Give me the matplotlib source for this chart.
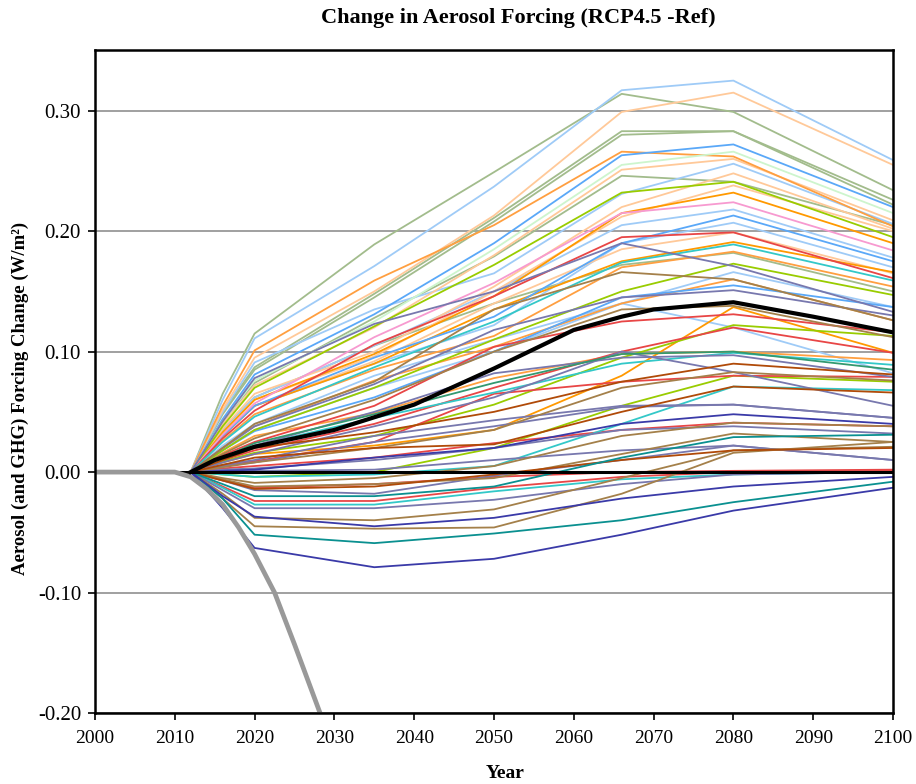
import numpy as np
import matplotlib
matplotlib.use('Agg')
import matplotlib.pyplot as plt

# 1. data (values at these years)
years = [2012, 2016, 2020, 2035, 2050, 2066, 2080, 2100]

sage_lines = [
    [0, 0.065, 0.115, 0.189, 0.249, 0.314, 0.299, 0.234],
    [0, 0.050, 0.087, 0.148, 0.211, 0.283, 0.283, 0.226],
    [0, 0.048, 0.085, 0.145, 0.208, 0.280, 0.283, 0.222],
    [0, 0.042, 0.074, 0.128, 0.179, 0.246, 0.241, 0.205],
    [0, 0.035, 0.062, 0.105, 0.140, 0.172, 0.182, 0.150],
]
lightblue_lines = [
    [0, 0.060, 0.111, 0.171, 0.237, 0.317, 0.325, 0.259],
    [0, 0.050, 0.091, 0.135, 0.165, 0.231, 0.256, 0.206],
    [0, 0.034, 0.062, 0.105, 0.150, 0.205, 0.218, 0.178],
    [0, 0.030, 0.055, 0.090, 0.122, 0.190, 0.207, 0.170],
    [0, 0.022, 0.040, 0.080, 0.110, 0.140, 0.166, 0.137],
    [0, 0.020, 0.035, 0.070, 0.100, 0.140, 0.120, 0.082],
]
peach_lines = [
    [0, 0.052, 0.095, 0.150, 0.213, 0.299, 0.315, 0.255],
    [0, 0.040, 0.072, 0.120, 0.180, 0.251, 0.260, 0.209],
    [0, 0.036, 0.065, 0.100, 0.154, 0.220, 0.248, 0.202],
    [0, 0.033, 0.060, 0.096, 0.150, 0.212, 0.238, 0.200],
    [0, 0.030, 0.055, 0.092, 0.140, 0.185, 0.199, 0.165],
]
orange_lines = [
    [0, 0.055, 0.101, 0.159, 0.205, 0.266, 0.262, 0.204],
    [0, 0.026, 0.048, 0.085, 0.113, 0.170, 0.183, 0.154],
    [0, 0.020, 0.038, 0.076, 0.104, 0.140, 0.160, 0.126],
    [0, 0.016, 0.030, 0.049, 0.078, 0.098, 0.100, 0.093],
]
darkorange_lines = [
    [0, 0.033, 0.060, 0.098, 0.146, 0.215, 0.232, 0.190],
    [0, 0.030, 0.055, 0.090, 0.135, 0.175, 0.191, 0.166],
    [0, 0.008, 0.015, 0.022, 0.035, 0.080, 0.137, 0.099],
]
blue_lines = [
    [0, 0.044, 0.081, 0.131, 0.190, 0.263, 0.272, 0.220],
    [0, 0.030, 0.055, 0.095, 0.129, 0.190, 0.213, 0.175],
    [0, 0.018, 0.034, 0.062, 0.100, 0.145, 0.155, 0.137],
]
palegreen_lines = [
    [0, 0.042, 0.076, 0.125, 0.185, 0.255, 0.266, 0.215],
]
yellowgreen_lines = [
    [0, 0.038, 0.070, 0.121, 0.172, 0.232, 0.241, 0.195],
    [0, 0.018, 0.035, 0.070, 0.110, 0.150, 0.173, 0.147],
    [0, 0.009, 0.016, 0.030, 0.056, 0.095, 0.122, 0.113],
    [0, -0.002, -0.004, 0.000, 0.020, 0.055, 0.080, 0.075],
]
pink_lines = [
    [0, 0.031, 0.057, 0.112, 0.157, 0.215, 0.224, 0.184],
]
red_lines = [
    [0, 0.028, 0.051, 0.106, 0.146, 0.195, 0.199, 0.161],
    [0, 0.014, 0.025, 0.055, 0.104, 0.125, 0.131, 0.116],
    [0, 0.010, 0.018, 0.040, 0.070, 0.100, 0.120, 0.099],
    [0, 0.005, 0.009, 0.025, 0.065, 0.075, 0.080, 0.079],
    [0, 0.003, 0.005, 0.012, 0.024, 0.035, 0.041, 0.038],
    [0, -0.007, -0.013, -0.010, -0.004, 0.000, 0.001, 0.002],
    [0, -0.012, -0.024, -0.024, -0.013, -0.004, 0.000, 0.001],
]
cyan_lines = [
    [0, 0.025, 0.046, 0.087, 0.125, 0.174, 0.189, 0.159],
    [0, 0.012, 0.022, 0.045, 0.066, 0.090, 0.099, 0.089],
    [0, -0.002, -0.004, -0.002, 0.005, 0.040, 0.071, 0.068],
    [0, -0.013, -0.027, -0.027, -0.016, -0.006, -0.002, 0.000],
]
slate_lines = [
    [0, 0.042, 0.078, 0.123, 0.150, 0.190, 0.171, 0.133],
    [0, 0.020, 0.038, 0.073, 0.118, 0.145, 0.151, 0.130],
    [0, 0.012, 0.022, 0.050, 0.082, 0.095, 0.097, 0.079],
    [0, 0.008, 0.015, 0.038, 0.062, 0.100, 0.083, 0.055],
    [0, 0.006, 0.010, 0.030, 0.043, 0.055, 0.056, 0.045],
    [0, 0.005, 0.008, 0.025, 0.038, 0.054, 0.056, 0.045],
    [0, 0.002, 0.003, 0.010, 0.020, 0.035, 0.038, 0.032],
    [0, 0.000, 0.001, 0.002, 0.010, 0.018, 0.022, 0.010],
    [0, -0.007, -0.015, -0.018, -0.003, 0.010, 0.022, 0.010],
    [0, -0.015, -0.030, -0.030, -0.023, -0.010, -0.002, 0.000],
]
tan_lines = [
    [0, 0.020, 0.040, 0.075, 0.135, 0.166, 0.160, 0.126],
    [0, 0.015, 0.028, 0.060, 0.100, 0.135, 0.138, 0.112],
    [0, 0.004, 0.008, 0.020, 0.035, 0.070, 0.083, 0.076],
    [0, -0.005, -0.009, -0.005, 0.005, 0.030, 0.041, 0.038],
    [0, -0.006, -0.012, -0.010, -0.005, 0.015, 0.032, 0.025],
    [0, -0.018, -0.038, -0.040, -0.031, -0.005, 0.018, 0.021],
    [0, -0.022, -0.045, -0.047, -0.046, -0.018, 0.016, 0.025],
]
rust_lines = [
    [0, 0.010, 0.020, 0.033, 0.050, 0.075, 0.090, 0.081],
    [0, 0.006, 0.012, 0.020, 0.023, 0.050, 0.071, 0.066],
    [0, -0.007, -0.014, -0.012, -0.002, 0.010, 0.018, 0.020],
]
seagreen_lines = [
    [0, 0.012, 0.024, 0.048, 0.074, 0.098, 0.100, 0.085],
]
teal_lines = [
    [0, -0.010, -0.020, -0.020, -0.012, 0.012, 0.029, 0.031],
    [0, -0.022, -0.052, -0.059, -0.051, -0.040, -0.025, -0.008],
]
navy_lines = [
    [0, 0.001, 0.002, 0.012, 0.020, 0.040, 0.048, 0.040],
    [0, -0.020, -0.037, -0.045, -0.038, -0.022, -0.012, -0.004],
    [0, -0.030, -0.063, -0.079, -0.072, -0.052, -0.032, -0.013],
]

# ensemble mean (thick black)
mean_years = [2012, 2015, 2020, 2030, 2040, 2050, 2060, 2066, 2070, 2080, 2090, 2100]
mean_vals = [0, 0.010, 0.021, 0.035, 0.056, 0.086, 0.118, 0.129, 0.135, 0.141, 0.129, 0.116]

# reference (thick grey)
ref_years = [2000, 2008, 2010, 2012, 2014, 2016, 2018, 2020, 2022.5, 2025, 2028.2, 2030]
ref_vals = [0, 0, 0, -0.004, -0.014, -0.027, -0.046, -0.068, -0.100, -0.143, -0.200, -0.232]

zero_years = [2000, 2100]
zero_vals = [0, 0]

groups = [
    (sage_lines, '#A2BC8C'),
    (lightblue_lines, '#9FCBF7'),
    (peach_lines, '#FFC999'),
    (orange_lines, '#FF9F40'),
    (darkorange_lines, '#FF9900'),
    (blue_lines, '#5AA8F8'),
    (palegreen_lines, '#CDF5CD'),
    (yellowgreen_lines, '#99CC00'),
    (pink_lines, '#F79AD0'),
    (red_lines, '#E84646'),
    (cyan_lines, '#33C8C8'),
    (slate_lines, '#7878AE'),
    (tan_lines, '#A4804A'),
    (rust_lines, '#B04A08'),
    (seagreen_lines, '#339970'),
    (teal_lines, '#0A9090'),
    (navy_lines, '#3A3AA8'),
]

# 2. figure format
plt.rcParams['font.family'] = ['Liberation Serif', 'DejaVu Serif']
plt.rcParams['axes.unicode_minus'] = False

fig = plt.figure(figsize=(9.16, 7.84), dpi=100)
ax = fig.add_axes([0.1037, 0.0906, 0.8712, 0.845])

for lines, col in groups:
    for vals in lines:
        ax.plot(years, vals, color=col, lw=1.3, zorder=3)

ax.plot(zero_years, zero_vals, color='black', lw=2.2, zorder=4)
ax.plot(ref_years, ref_vals, color='#999999', lw=3.4, zorder=5)
ax.plot(mean_years, mean_vals, color='black', lw=3.0, zorder=6)

# 3. axes
ax.set_xlim(2000, 2100)
ax.set_ylim(-0.20, 0.35)
ax.set_xticks(np.arange(2000, 2101, 10))
ax.set_yticks(np.arange(-0.2, 0.31, 0.1))
ax.set_yticklabels(['%.2f' % v for v in np.arange(-0.2, 0.31, 0.1)])
ax.yaxis.grid(True, color='#999999', lw=1.3, zorder=1)
ax.set_axisbelow(True)
ax.tick_params(direction='out', length=5, width=1.2)
ax.tick_params(axis='x', labelsize=14, pad=7)
ax.tick_params(axis='y', labelsize=15, pad=5)
for sp in ax.spines.values():
    sp.set_linewidth(1.8)
    sp.set_zorder(7)

fig.text(0.5655, 0.977, 'Change in Aerosol Forcing (RCP4.5 -Ref)', fontsize=16,
         fontweight='bold', ha='center', va='center')
fig.text(0.551, 0.014, 'Year', fontsize=14, fontweight='bold',
         ha='center', va='center')
fig.text(0.022, 0.492, 'Aerosol (and GHG) Forcing Change (W/m²)', fontsize=13.5,
         fontweight='bold', rotation=90, ha='center', va='center')

plt.savefig('out.png', dpi=100)
